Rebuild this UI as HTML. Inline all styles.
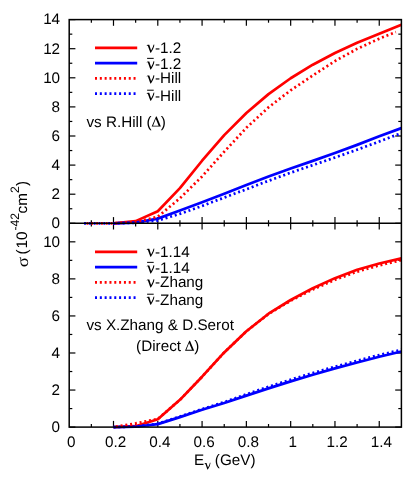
<!DOCTYPE html>
<html><head><meta charset="utf-8"><title>chart</title>
<style>html,body{margin:0;padding:0;background:#fff}svg{display:block;will-change:transform}text{font-family:"Liberation Sans",sans-serif;font-size:15.25px;fill:#000;text-rendering:geometricPrecision}.sy{font-family:"Liberation Serif",serif}</style></head><body>
<svg width="415" height="485" viewBox="0 0 415 485">
<rect width="415" height="485" fill="#fff"/>
<defs>
<clipPath id="c1"><rect x="69.2" y="17.6" width="332.2" height="207.7"/></clipPath>
<clipPath id="c2"><rect x="69.2" y="223.3" width="332.2" height="205.8"/></clipPath></defs>
<g stroke="#000" stroke-width="1.2">
<line x1="91.35" y1="223.30" x2="91.35" y2="220.20"/>
<line x1="91.35" y1="19.60" x2="91.35" y2="22.70"/>
<line x1="113.49" y1="223.30" x2="113.49" y2="217.10"/>
<line x1="113.49" y1="19.60" x2="113.49" y2="25.80"/>
<line x1="135.64" y1="223.30" x2="135.64" y2="220.20"/>
<line x1="135.64" y1="19.60" x2="135.64" y2="22.70"/>
<line x1="157.79" y1="223.30" x2="157.79" y2="217.10"/>
<line x1="157.79" y1="19.60" x2="157.79" y2="25.80"/>
<line x1="179.93" y1="223.30" x2="179.93" y2="220.20"/>
<line x1="179.93" y1="19.60" x2="179.93" y2="22.70"/>
<line x1="202.08" y1="223.30" x2="202.08" y2="217.10"/>
<line x1="202.08" y1="19.60" x2="202.08" y2="25.80"/>
<line x1="224.23" y1="223.30" x2="224.23" y2="220.20"/>
<line x1="224.23" y1="19.60" x2="224.23" y2="22.70"/>
<line x1="246.37" y1="223.30" x2="246.37" y2="217.10"/>
<line x1="246.37" y1="19.60" x2="246.37" y2="25.80"/>
<line x1="268.52" y1="223.30" x2="268.52" y2="220.20"/>
<line x1="268.52" y1="19.60" x2="268.52" y2="22.70"/>
<line x1="290.67" y1="223.30" x2="290.67" y2="217.10"/>
<line x1="290.67" y1="19.60" x2="290.67" y2="25.80"/>
<line x1="312.81" y1="223.30" x2="312.81" y2="220.20"/>
<line x1="312.81" y1="19.60" x2="312.81" y2="22.70"/>
<line x1="334.96" y1="223.30" x2="334.96" y2="217.10"/>
<line x1="334.96" y1="19.60" x2="334.96" y2="25.80"/>
<line x1="357.11" y1="223.30" x2="357.11" y2="220.20"/>
<line x1="357.11" y1="19.60" x2="357.11" y2="22.70"/>
<line x1="379.25" y1="223.30" x2="379.25" y2="217.10"/>
<line x1="379.25" y1="19.60" x2="379.25" y2="25.80"/>
<line x1="91.35" y1="427.10" x2="91.35" y2="424.00"/>
<line x1="91.35" y1="223.30" x2="91.35" y2="226.40"/>
<line x1="113.49" y1="427.10" x2="113.49" y2="420.90"/>
<line x1="113.49" y1="223.30" x2="113.49" y2="229.50"/>
<line x1="135.64" y1="427.10" x2="135.64" y2="424.00"/>
<line x1="135.64" y1="223.30" x2="135.64" y2="226.40"/>
<line x1="157.79" y1="427.10" x2="157.79" y2="420.90"/>
<line x1="157.79" y1="223.30" x2="157.79" y2="229.50"/>
<line x1="179.93" y1="427.10" x2="179.93" y2="424.00"/>
<line x1="179.93" y1="223.30" x2="179.93" y2="226.40"/>
<line x1="202.08" y1="427.10" x2="202.08" y2="420.90"/>
<line x1="202.08" y1="223.30" x2="202.08" y2="229.50"/>
<line x1="224.23" y1="427.10" x2="224.23" y2="424.00"/>
<line x1="224.23" y1="223.30" x2="224.23" y2="226.40"/>
<line x1="246.37" y1="427.10" x2="246.37" y2="420.90"/>
<line x1="246.37" y1="223.30" x2="246.37" y2="229.50"/>
<line x1="268.52" y1="427.10" x2="268.52" y2="424.00"/>
<line x1="268.52" y1="223.30" x2="268.52" y2="226.40"/>
<line x1="290.67" y1="427.10" x2="290.67" y2="420.90"/>
<line x1="290.67" y1="223.30" x2="290.67" y2="229.50"/>
<line x1="312.81" y1="427.10" x2="312.81" y2="424.00"/>
<line x1="312.81" y1="223.30" x2="312.81" y2="226.40"/>
<line x1="334.96" y1="427.10" x2="334.96" y2="420.90"/>
<line x1="334.96" y1="223.30" x2="334.96" y2="229.50"/>
<line x1="357.11" y1="427.10" x2="357.11" y2="424.00"/>
<line x1="357.11" y1="223.30" x2="357.11" y2="226.40"/>
<line x1="379.25" y1="427.10" x2="379.25" y2="420.90"/>
<line x1="379.25" y1="223.30" x2="379.25" y2="229.50"/>
<line x1="69.20" y1="223.30" x2="75.40" y2="223.30"/>
<line x1="401.40" y1="223.30" x2="395.20" y2="223.30"/>
<line x1="69.20" y1="208.75" x2="72.30" y2="208.75"/>
<line x1="401.40" y1="208.75" x2="398.30" y2="208.75"/>
<line x1="69.20" y1="194.20" x2="75.40" y2="194.20"/>
<line x1="401.40" y1="194.20" x2="395.20" y2="194.20"/>
<line x1="69.20" y1="179.65" x2="72.30" y2="179.65"/>
<line x1="401.40" y1="179.65" x2="398.30" y2="179.65"/>
<line x1="69.20" y1="165.10" x2="75.40" y2="165.10"/>
<line x1="401.40" y1="165.10" x2="395.20" y2="165.10"/>
<line x1="69.20" y1="150.55" x2="72.30" y2="150.55"/>
<line x1="401.40" y1="150.55" x2="398.30" y2="150.55"/>
<line x1="69.20" y1="136.00" x2="75.40" y2="136.00"/>
<line x1="401.40" y1="136.00" x2="395.20" y2="136.00"/>
<line x1="69.20" y1="121.45" x2="72.30" y2="121.45"/>
<line x1="401.40" y1="121.45" x2="398.30" y2="121.45"/>
<line x1="69.20" y1="106.90" x2="75.40" y2="106.90"/>
<line x1="401.40" y1="106.90" x2="395.20" y2="106.90"/>
<line x1="69.20" y1="92.35" x2="72.30" y2="92.35"/>
<line x1="401.40" y1="92.35" x2="398.30" y2="92.35"/>
<line x1="69.20" y1="77.80" x2="75.40" y2="77.80"/>
<line x1="401.40" y1="77.80" x2="395.20" y2="77.80"/>
<line x1="69.20" y1="63.25" x2="72.30" y2="63.25"/>
<line x1="401.40" y1="63.25" x2="398.30" y2="63.25"/>
<line x1="69.20" y1="48.70" x2="75.40" y2="48.70"/>
<line x1="401.40" y1="48.70" x2="395.20" y2="48.70"/>
<line x1="69.20" y1="34.15" x2="72.30" y2="34.15"/>
<line x1="401.40" y1="34.15" x2="398.30" y2="34.15"/>
<line x1="69.20" y1="19.60" x2="75.40" y2="19.60"/>
<line x1="401.40" y1="19.60" x2="395.20" y2="19.60"/>
<line x1="69.20" y1="427.10" x2="75.40" y2="427.10"/>
<line x1="401.40" y1="427.10" x2="395.20" y2="427.10"/>
<line x1="69.20" y1="408.57" x2="72.30" y2="408.57"/>
<line x1="401.40" y1="408.57" x2="398.30" y2="408.57"/>
<line x1="69.20" y1="390.05" x2="75.40" y2="390.05"/>
<line x1="401.40" y1="390.05" x2="395.20" y2="390.05"/>
<line x1="69.20" y1="371.52" x2="72.30" y2="371.52"/>
<line x1="401.40" y1="371.52" x2="398.30" y2="371.52"/>
<line x1="69.20" y1="352.99" x2="75.40" y2="352.99"/>
<line x1="401.40" y1="352.99" x2="395.20" y2="352.99"/>
<line x1="69.20" y1="334.46" x2="72.30" y2="334.46"/>
<line x1="401.40" y1="334.46" x2="398.30" y2="334.46"/>
<line x1="69.20" y1="315.94" x2="75.40" y2="315.94"/>
<line x1="401.40" y1="315.94" x2="395.20" y2="315.94"/>
<line x1="69.20" y1="297.41" x2="72.30" y2="297.41"/>
<line x1="401.40" y1="297.41" x2="398.30" y2="297.41"/>
<line x1="69.20" y1="278.88" x2="75.40" y2="278.88"/>
<line x1="401.40" y1="278.88" x2="395.20" y2="278.88"/>
<line x1="69.20" y1="260.35" x2="72.30" y2="260.35"/>
<line x1="401.40" y1="260.35" x2="398.30" y2="260.35"/>
<line x1="69.20" y1="241.83" x2="75.40" y2="241.83"/>
<line x1="401.40" y1="241.83" x2="395.20" y2="241.83"/>
</g>
<g clip-path="url(#c1)" fill="none" stroke-width="2.7" stroke-linejoin="round">
<path d="M113.49 223.30 L135.64 221.12 L157.79 211.22 L179.93 188.09 L202.08 160.74 L224.23 135.13 L246.37 113.01 L268.52 94.10 L290.67 78.24 L312.81 64.70 L334.96 53.07 L357.11 42.73 L379.25 33.86 L401.40 24.84" stroke="#ff0000"/>
<path d="M113.49 223.30 L135.64 222.57 L157.79 218.64 L179.93 210.50 L202.08 202.20 L224.23 193.76 L246.37 184.89 L268.52 176.59 L290.67 168.59 L312.81 160.88 L334.96 153.02 L357.11 144.88 L379.25 136.29 L401.40 128.14" stroke="#0000ff"/>
<path d="M84.04 223.30 L113.49 223.30 L135.64 222.14 L157.79 216.75 L179.93 198.27 L202.08 176.45 L224.23 151.71 L246.37 127.85 L268.52 107.34 L290.67 90.31 L312.81 75.47 L334.96 61.07 L357.11 48.85 L379.25 38.66 L395.86 32.11" stroke="#ff0000" stroke-dasharray="2 2.82" stroke-dashoffset="2.4"/>
<path d="M84.04 223.30 L113.49 223.30 L135.64 222.86 L157.79 220.54 L179.93 213.84 L202.08 205.99 L224.23 197.55 L246.37 189.25 L268.52 180.81 L290.67 172.67 L312.81 165.10 L334.96 157.53 L357.11 149.68 L379.25 141.53 L401.40 133.09" stroke="#0000ff" stroke-dasharray="2 2.82"/>
</g>
<g clip-path="url(#c2)" fill="none" stroke-width="2.7" stroke-linejoin="round">
<path d="M113.49 427.10 L135.64 426.17 L157.79 419.32 L179.93 399.86 L202.08 376.71 L224.23 352.44 L246.37 331.31 L268.52 313.71 L290.67 300.00 L312.81 288.15 L334.96 278.14 L357.11 269.80 L379.25 263.50 L401.40 258.32" stroke="#ff0000"/>
<path d="M113.49 427.10 L135.64 426.73 L157.79 424.14 L179.93 417.10 L202.08 409.68 L224.23 403.01 L246.37 395.60 L268.52 388.38 L290.67 381.34 L312.81 374.67 L334.96 368.37 L357.11 362.44 L379.25 356.70 L401.40 351.51" stroke="#0000ff"/>
<path d="M113.49 427.10 L135.64 423.39 L157.79 418.95 L179.93 399.86 L202.08 376.71 L224.23 352.44 L246.37 331.31 L268.52 313.90 L290.67 300.74 L312.81 289.44 L334.96 279.81 L357.11 271.66 L379.25 265.36 L401.40 260.17" stroke="#ff0000" stroke-dasharray="2 2.82" stroke-dashoffset="2.4"/>
<path d="M113.49 427.10 L135.64 426.54 L157.79 423.77 L179.93 416.54 L202.08 409.13 L224.23 402.09 L246.37 394.31 L268.52 386.71 L290.67 379.67 L312.81 373.00 L334.96 366.70 L357.11 360.77 L379.25 355.03 L401.40 349.84" stroke="#0000ff" stroke-dasharray="2 2.82"/>
</g>
<line x1="95" y1="47.85" x2="137.2" y2="47.85" stroke="#ff0000" stroke-width="2.7"/>
<path d="M-0.55 -6.7 L0.55 -7.7 L2.3 -7.65 L4.1 -2.1 Q6.1 -5.3 6.5 -7.85 L7.3 -7.9 Q7.4 -4.9 3.95 0.35 L3.35 0.35 L0.8 -6.8 Z" transform="translate(147.00 52.50)"/><text x="155.0" y="52.50">-1.2</text>
<line x1="95" y1="63.12" x2="137.2" y2="63.12" stroke="#0000ff" stroke-width="2.7"/>
<path d="M-0.55 -6.7 L0.55 -7.7 L2.3 -7.65 L4.1 -2.1 Q6.1 -5.3 6.5 -7.85 L7.3 -7.9 Q7.4 -4.9 3.95 0.35 L3.35 0.35 L0.8 -6.8 Z" transform="translate(147.00 69.17)"/><text x="155.0" y="69.17">-1.2</text>
<line x1="147.1" y1="58.37" x2="153.7" y2="58.37" stroke="#000" stroke-width="1"/>
<line x1="95" y1="78.39" x2="137.2" y2="78.39" stroke="#ff0000" stroke-width="2.7" stroke-dasharray="2 2.82"/>
<path d="M-0.55 -6.7 L0.55 -7.7 L2.3 -7.65 L4.1 -2.1 Q6.1 -5.3 6.5 -7.85 L7.3 -7.9 Q7.4 -4.9 3.95 0.35 L3.35 0.35 L0.8 -6.8 Z" transform="translate(147.00 83.14)"/><text x="155.0" y="83.14">-Hill</text>
<line x1="95" y1="93.66" x2="137.2" y2="93.66" stroke="#0000ff" stroke-width="2.7" stroke-dasharray="2 2.82"/>
<path d="M-0.55 -6.7 L0.55 -7.7 L2.3 -7.65 L4.1 -2.1 Q6.1 -5.3 6.5 -7.85 L7.3 -7.9 Q7.4 -4.9 3.95 0.35 L3.35 0.35 L0.8 -6.8 Z" transform="translate(147.00 100.51)"/><text x="155.0" y="100.51">-Hill</text>
<line x1="147.1" y1="90.21" x2="153.7" y2="90.21" stroke="#000" stroke-width="1"/>
<line x1="95" y1="251.85" x2="137.2" y2="251.85" stroke="#ff0000" stroke-width="2.7"/>
<path d="M-0.55 -6.7 L0.55 -7.7 L2.3 -7.65 L4.1 -2.1 Q6.1 -5.3 6.5 -7.85 L7.3 -7.9 Q7.4 -4.9 3.95 0.35 L3.35 0.35 L0.8 -6.8 Z" transform="translate(147.00 256.50)"/><text x="155.0" y="256.50">-1.14</text>
<line x1="95" y1="267.12" x2="137.2" y2="267.12" stroke="#0000ff" stroke-width="2.7"/>
<path d="M-0.55 -6.7 L0.55 -7.7 L2.3 -7.65 L4.1 -2.1 Q6.1 -5.3 6.5 -7.85 L7.3 -7.9 Q7.4 -4.9 3.95 0.35 L3.35 0.35 L0.8 -6.8 Z" transform="translate(147.00 273.17)"/><text x="155.0" y="273.17">-1.14</text>
<line x1="147.1" y1="262.37" x2="153.7" y2="262.37" stroke="#000" stroke-width="1"/>
<line x1="95" y1="282.39" x2="137.2" y2="282.39" stroke="#ff0000" stroke-width="2.7" stroke-dasharray="2 2.82"/>
<path d="M-0.55 -6.7 L0.55 -7.7 L2.3 -7.65 L4.1 -2.1 Q6.1 -5.3 6.5 -7.85 L7.3 -7.9 Q7.4 -4.9 3.95 0.35 L3.35 0.35 L0.8 -6.8 Z" transform="translate(147.00 287.14)"/><text x="155.0" y="287.14">-Zhang</text>
<line x1="95" y1="297.66" x2="137.2" y2="297.66" stroke="#0000ff" stroke-width="2.7" stroke-dasharray="2 2.82"/>
<path d="M-0.55 -6.7 L0.55 -7.7 L2.3 -7.65 L4.1 -2.1 Q6.1 -5.3 6.5 -7.85 L7.3 -7.9 Q7.4 -4.9 3.95 0.35 L3.35 0.35 L0.8 -6.8 Z" transform="translate(147.00 304.51)"/><text x="155.0" y="304.51">-Zhang</text>
<line x1="147.1" y1="294.21" x2="153.7" y2="294.21" stroke="#000" stroke-width="1"/>
<text x="86.4" y="126.6">vs R.Hill (</text><path fill-rule="evenodd" d="M0 0 L4.3 -10.05 L5.0 -10.05 L9.2 0 Z M1.35 -0.85 L6.95 -0.85 L4.1 -7.7 Z" transform="translate(151.7 126.5)"/><text x="160.8" y="126.6">)</text>
<text x="86.4" y="330.2">vs X.Zhang &amp; D.Serot</text>
<text x="136.1" y="350.8">(Direct </text><path fill-rule="evenodd" d="M0 0 L4.3 -10.05 L5.0 -10.05 L9.2 0 Z M1.35 -0.85 L6.95 -0.85 L4.1 -7.7 Z" transform="translate(185.0 350.7)"/><text x="194.3" y="350.8">)</text>
<g fill="none" stroke="#000" stroke-width="1.5">
<rect x="69.20" y="19.60" width="332.20" height="407.50"/>
<line x1="69.20" y1="223.30" x2="401.40" y2="223.30" stroke-width="1.4"/>
</g>
<g text-anchor="end">
<text x="60.1" y="228.20">0</text>
<text x="60.1" y="199.10">2</text>
<text x="60.1" y="170.00">4</text>
<text x="60.1" y="140.90">6</text>
<text x="60.1" y="111.80">8</text>
<text x="60.1" y="82.70">10</text>
<text x="60.1" y="53.60">12</text>
<text x="60.1" y="24.10">14</text>
<text x="60.1" y="432.00">0</text>
<text x="60.1" y="394.95">2</text>
<text x="60.1" y="357.89">4</text>
<text x="60.1" y="320.84">6</text>
<text x="60.1" y="283.78">8</text>
<text x="60.1" y="246.73">10</text>
</g>
<g text-anchor="middle">
<text x="71.30" y="447.3">0</text>
<text x="115.59" y="447.3">0.2</text>
<text x="159.89" y="447.3">0.4</text>
<text x="204.18" y="447.3">0.6</text>
<text x="248.47" y="447.3">0.8</text>
<text x="292.77" y="447.3">1</text>
<text x="337.06" y="447.3">1.2</text>
<text x="381.35" y="447.3">1.4</text>
</g>
<text x="194" y="464.6">E</text><path d="M-0.55 -6.7 L0.55 -7.7 L2.3 -7.65 L4.1 -2.1 Q6.1 -5.3 6.5 -7.85 L7.3 -7.9 Q7.4 -4.9 3.95 0.35 L3.35 0.35 L0.8 -6.8 Z" transform="translate(204.7 469.1) scale(0.8)"/><text x="214.8" y="464.6">(GeV)</text>
<g transform="translate(27.3 223.4) rotate(-90)"><text class="sy" transform="translate(-43.8 0.9) scale(1.24 1.08)">&#963;</text><text x="-31.0">(</text><text x="-25.2">10</text><text x="-7.1" y="-8" style="font-size:12.2px">-42</text><text x="9.96">cm</text><text x="30.3" y="-8" style="font-size:12.2px">2</text><text x="37.3">)</text></g>
</svg></body></html>
